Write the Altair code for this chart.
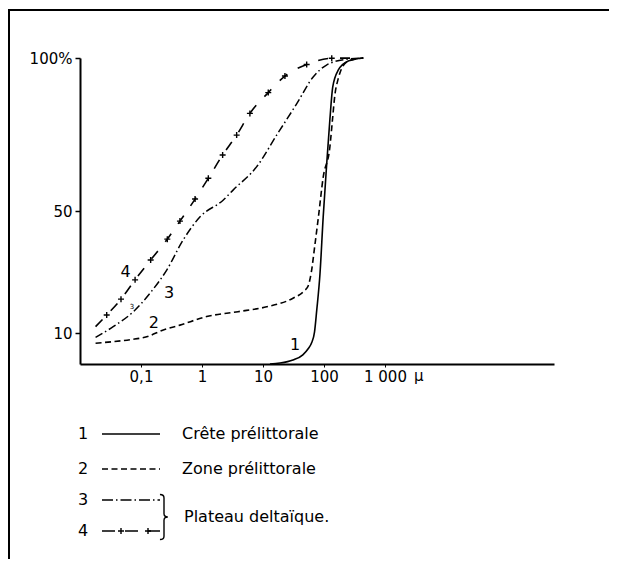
import altair as alt
import pandas as pd

# ---- data (x in microns, y in cumulative %) ----
c1_x = [13, 19, 31, 45, 55, 63, 70, 76, 86, 97, 110, 125, 139, 171, 250, 440]
c1_y = [0, 0.3, 1.3, 3.0, 5.0, 7.0, 10.5, 17.5, 29.5, 48, 64.5, 80, 90.5, 96, 99, 100]

c2_x = [0.018, 0.035, 0.07, 0.124, 0.232, 0.435, 1.19, 3.9, 11.5, 31, 48, 55, 62, 70, 81, 97, 125, 138, 151, 170, 195, 250, 440]
c2_y = [6.8, 7.3, 8.0, 8.9, 11.1, 12.7, 15.5, 17.1, 18.7, 21.5, 24, 25.5, 30, 38, 48, 61, 71, 80, 88, 93, 96.6, 99, 100]

c3_x = [0.018, 0.035, 0.075, 0.14, 0.264, 0.49, 0.93, 2.24, 3.26, 7.9, 17, 35.6, 67, 110, 234, 440]
c3_y = [8.7, 12.2, 17.1, 23.1, 30.7, 40.5, 48.1, 53.6, 56.9, 64.5, 75, 85, 93.9, 97.7, 99.6, 100]

c4_x = [0.018, 0.0274, 0.047, 0.080, 0.144, 0.27, 0.435, 0.77, 1.27, 2.18, 3.7, 6.1, 12.2, 22.9, 52, 134, 440]
c4_y = [12.2, 16, 21.2, 27.5, 34, 40.8, 46.7, 53.9, 60.7, 68.3, 74.8, 81.9, 88.7, 94.1, 97.9, 99.9, 100]

curve_labels = ["1", "2", "3", "4"]
curve_label_x = [33.5, 0.163, 0.29, 0.056]
curve_label_y = [6.2, 13.3, 23.1, 30.2]

x_tick_values = [0.1, 1, 10, 100, 1000]
x_tick_labels = ["0,1", "1", "10", "100", "1 000"]
y_tick_values = [10, 50, 100]
y_tick_labels = ["10", "50", "100%"]
x_unit = "µ"

legend_numbers = ["1", "2", "3", "4"]
legend_names = ["Crête prélittorale", "Zone prélittorale", "Plateau deltaïque."]

FONT = "DejaVu Sans"
W, H = 474, 306


def label_expr(values, labels):
    expr = "datum.label"
    for v, l in zip(values, labels):
        expr = f"datum.value == {v} ? '{l}' : ({expr})"
    return expr


xscale = alt.Scale(type="log", domain=[0.01, 5.9e5], nice=False)
yscale = alt.Scale(domain=[0, 100], nice=False, zero=True)
xaxis = alt.Axis(values=x_tick_values, labelExpr=label_expr(x_tick_values, x_tick_labels),
                 title=None, grid=False, tickSize=3, labelPadding=2, domainWidth=2,
                 domainColor="black", tickColor="black", labelColor="black",
                 labelFont=FONT, labelFontSize=15, labelFlush=False, labelOverlap=False)
yaxis = alt.Axis(values=y_tick_values, labelExpr=label_expr(y_tick_values, y_tick_labels),
                 title=None, grid=False, tickSize=5, labelPadding=3, domainWidth=2,
                 domainColor="black", tickColor="black", tickWidth=1.5, labelColor="black",
                 labelFont=FONT, labelFontSize=15, labelFlush=False, labelOverlap=False)

X = alt.X("x:Q", scale=xscale, axis=xaxis)
Y = alt.Y("y:Q", scale=yscale, axis=yaxis)


def df(xs, ys):
    return pd.DataFrame({"x": xs, "y": ys})


one = pd.DataFrame({"k": [0]})

layers = []
layers.append(alt.Chart(df(c1_x, c1_y)).mark_line(color="black", strokeWidth=1.6, interpolate="monotone").encode(x=X, y=Y))
layers.append(alt.Chart(df(c2_x, c2_y)).mark_line(color="black", strokeWidth=1.6, strokeDash=[6, 3.5], interpolate="monotone").encode(x=X, y=Y))
layers.append(alt.Chart(df(c3_x, c3_y)).mark_line(color="black", strokeWidth=1.5, strokeDash=[8, 3, 1.5, 3], interpolate="monotone").encode(x=X, y=Y))
layers.append(alt.Chart(df(c4_x, c4_y)).mark_line(color="black", strokeWidth=1.6, strokeDash=[10, 12], interpolate="monotone").encode(x=X, y=Y))
CROSS = "M-1,0L1,0M0,-1L0,1"
layers.append(alt.Chart(df(c4_x[1:-1], c4_y[1:-1])).mark_point(shape=CROSS, size=36, filled=False, stroke="black", strokeWidth=1.4, opacity=1).encode(x=X, y=Y))

layers.append(alt.Chart(pd.DataFrame({"x": curve_label_x, "y": curve_label_y, "t": curve_labels}))
              .mark_text(font=FONT, fontSize=16, color="black", align="center", baseline="middle")
              .encode(x=X, y=Y, text="t:N"))
# tiny stray "3" of the original print
layers.append(alt.Chart(one).mark_text(text="3", font=FONT, fontSize=7, color="black")
              .encode(x=alt.value(52), y=alt.value(249)))

# unit after the x axis labels
layers.append(alt.Chart(one).mark_text(text=x_unit, font=FONT, fontSize=15, color="black", align="left", baseline="top")
              .encode(x=alt.value(334), y=alt.value(311)))

# ---- legend ----
leg_y = [376, 411, 442, 473]
for num, yy in zip(legend_numbers, leg_y):
    layers.append(alt.Chart(one).mark_text(text=num, font=FONT, fontSize=16, color="black", align="center", baseline="middle")
                  .encode(x=alt.value(3), y=alt.value(yy)))
dashes = [None, [6, 3.5], [11, 3, 1.5, 3], [13, 10]]
for d, yy in zip(dashes, leg_y):
    kw = dict(color="black", strokeWidth=1.5)
    if d:
        kw["strokeDash"] = d
    layers.append(alt.Chart(one).mark_rule(**kw).encode(x=alt.value(22), x2=alt.value(80), y=alt.value(yy)))
for cx in [41, 68]:
    layers.append(alt.Chart(one).mark_point(shape=CROSS, size=36, filled=False, stroke="black", strokeWidth=1.4, opacity=1)
                  .encode(x=alt.value(cx), y=alt.value(473)))
BRACE = "M-0.18,-1Q0,-1 0,-0.85L0,-0.14Q0,0 0.17,0Q0,0 0,0.14L0,0.85Q0,1 -0.18,1"
layers.append(alt.Chart(one).mark_point(shape=BRACE, size=2025, filled=False, stroke="black", strokeWidth=1.4, opacity=1)
              .encode(x=alt.value(84), y=alt.value(459)))
for name, xx, yy in zip(legend_names, [102, 102, 104], [376, 411, 459]):
    layers.append(alt.Chart(one).mark_text(text=name, font=FONT, fontSize=16, color="black", align="left", baseline="middle")
                  .encode(x=alt.value(xx), y=alt.value(yy)))

# ---- frame of the printed figure ----
layers.append(alt.Chart(one).mark_rule(color="black", strokeWidth=2).encode(x=alt.value(-71), y=alt.value(-48), y2=alt.value(501)))
layers.append(alt.Chart(one).mark_rule(color="black", strokeWidth=2).encode(x=alt.value(-72), x2=alt.value(560), y=alt.value(-48)))

chart = alt.layer(*layers).properties(
    width=W, height=H,
    autosize=alt.AutoSizeParams(type="none"),
    padding={"left": 72, "top": 50, "right": 55, "bottom": 195},
    background="white",
).configure_view(stroke=None, strokeWidth=0)

chart.save("out.html", embed_options={"renderer": "svg", "actions": False})
